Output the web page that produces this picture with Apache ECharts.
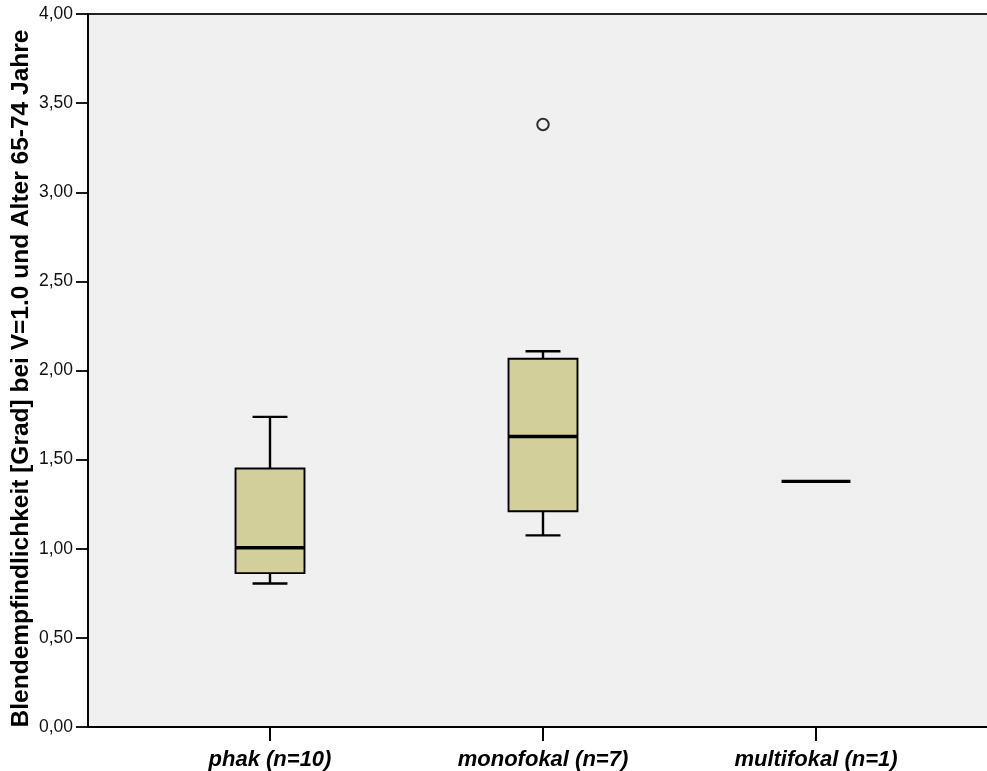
<!DOCTYPE html>
<html>
<head>
<meta charset="utf-8">
<script src="https://cdn.jsdelivr.net/npm/echarts@6/dist/echarts.min.js"></script>
<style>
  html, body { margin: 0; padding: 0; background: #ffffff; }
  #chart { width: 987px; height: 771px; }
</style>
</head>
<body>
<div id="chart"></div>
<script>
// Groups and their box-plot statistics
const categories = ['phak (n=10)', 'monofokal (n=7)', 'multifokal (n=1)'];
const whiskerLow  = [0.805, 1.075, 1.378];
const quartile1   = [0.863, 1.210, 1.378];
const medians     = [1.006, 1.630, 1.378];
const quartile3   = [1.450, 2.066, 1.378];
const whiskerHigh = [1.740, 2.108, 1.378];

// Outliers: group name and value
const outlierGroups = ['monofokal (n=7)'];
const outlierValues = [3.38];

// Y tick values and their labels
const yTickValues = [0, 0.5, 1, 1.5, 2, 2.5, 3, 3.5, 4];
const yTickLabels = ['0,00', '0,50', '1,00', '1,50', '2,00', '2,50', '3,00', '3,50', '4,00'];

const FONT = '"Liberation Sans", Arial, sans-serif';
const BOX_WIDTH = 0.2526;   // in group units
const CAP_WIDTH = 0.128;
const BOX_FILL = '#d3cf9b';

const groupPos = categories.map((c, i) => i + 1);

const boxData = categories.map((c, i) => [
  groupPos[i], whiskerLow[i], quartile1[i], medians[i], quartile3[i], whiskerHigh[i]
]);
const outlierData = outlierGroups.map((g, i) => [groupPos[categories.indexOf(g)], outlierValues[i]]);

function renderBox(params, api) {
  const x = api.value(0);
  const lo = api.value(1), q1 = api.value(2), md = api.value(3), q3 = api.value(4), hi = api.value(5);
  const half = api.size([BOX_WIDTH, 0])[0] / 2;
  const capHalf = api.size([CAP_WIDTH, 0])[0] / 2;
  const pLo = api.coord([x, lo]);
  const pQ1 = api.coord([x, q1]);
  const pMd = api.coord([x, md]);
  const pQ3 = api.coord([x, q3]);
  const pHi = api.coord([x, hi]);
  const cx = pMd[0];
  const line = { stroke: '#000', lineWidth: 2.4 };
  const children = [];
  if (hi > q3) {
    children.push({ type: 'line', shape: { x1: cx, y1: pQ3[1], x2: cx, y2: pHi[1] }, style: line });
    children.push({ type: 'line', shape: { x1: cx - capHalf, y1: pHi[1], x2: cx + capHalf, y2: pHi[1] }, style: line });
  }
  if (lo < q1) {
    children.push({ type: 'line', shape: { x1: cx, y1: pQ1[1], x2: cx, y2: pLo[1] }, style: line });
    children.push({ type: 'line', shape: { x1: cx - capHalf, y1: pLo[1], x2: cx + capHalf, y2: pLo[1] }, style: line });
  }
  if (q3 > q1) {
    children.push({
      type: 'rect',
      shape: { x: cx - half, y: pQ3[1], width: half * 2, height: pQ1[1] - pQ3[1] },
      style: { fill: BOX_FILL, stroke: '#000', lineWidth: 1.9 }
    });
  }
  children.push({
    type: 'line',
    shape: { x1: cx - half, y1: pMd[1], x2: cx + half, y2: pMd[1] },
    style: { stroke: '#000', lineWidth: 3.4 }
  });
  return { type: 'group', children: children };
}

const chart = echarts.init(document.getElementById('chart'), null, { renderer: 'canvas' });
chart.setOption({
  backgroundColor: '#ffffff',
  animation: false,
  grid: {
    left: 88, top: 14, width: 910, height: 713,
    outerBoundsMode: 'none',
    containLabel: false,
    show: true, backgroundColor: '#f0f0f0', borderColor: '#222', borderWidth: 1.8
  },
  xAxis: {
    type: 'value',
    min: 1 / 3,
    max: 11 / 3,
    splitLine: { show: false },
    axisLine: { show: true, onZero: false, lineStyle: { color: '#000', width: 2 } },
    axisTick: { show: true, customValues: groupPos, length: 14, lineStyle: { color: '#000', width: 2 } },
    axisLabel: {
      customValues: groupPos,
      margin: 22,
      formatter: v => categories[Math.round(v) - 1] || '',
      fontFamily: FONT, fontSize: 22, fontWeight: 'bold', fontStyle: 'italic', color: '#000'
    }
  },
  yAxis: {
    type: 'value',
    min: 0, max: 4, interval: 0.5,
    name: 'Blendempfindlichkeit [Grad] bei V=1.0 und Alter 65-74 Jahre',
    nameLocation: 'middle',
    nameGap: 54,
    nameMoveOverlap: false,
    nameRotate: 90,
    nameTextStyle: { fontFamily: FONT, fontSize: 24.5, fontWeight: 'bold', color: '#000', padding: [0, 16, 0, 0] },
    splitLine: { show: false },
    axisLine: { show: true, lineStyle: { color: '#000', width: 1.8 } },
    axisTick: { show: true, length: 12, lineStyle: { color: '#000', width: 1.8 } },
    axisLabel: {
      margin: 15,
      formatter: v => yTickLabels[yTickValues.indexOf(Math.round(v * 100) / 100)],
      fontFamily: FONT, fontSize: 17.5, color: '#111'
    }
  },
  series: [
    {
      type: 'custom',
      renderItem: renderBox,
      data: boxData,
      encode: { x: 0, y: [1, 2, 3, 4, 5] },
      z: 3
    },
    {
      type: 'scatter',
      data: outlierData,
      symbol: 'circle',
      symbolSize: 11.5,
      itemStyle: { color: 'rgba(0,0,0,0)', borderColor: '#000', borderWidth: 2 },
      z: 4
    }
  ]
});
</script>
</body>
</html>
